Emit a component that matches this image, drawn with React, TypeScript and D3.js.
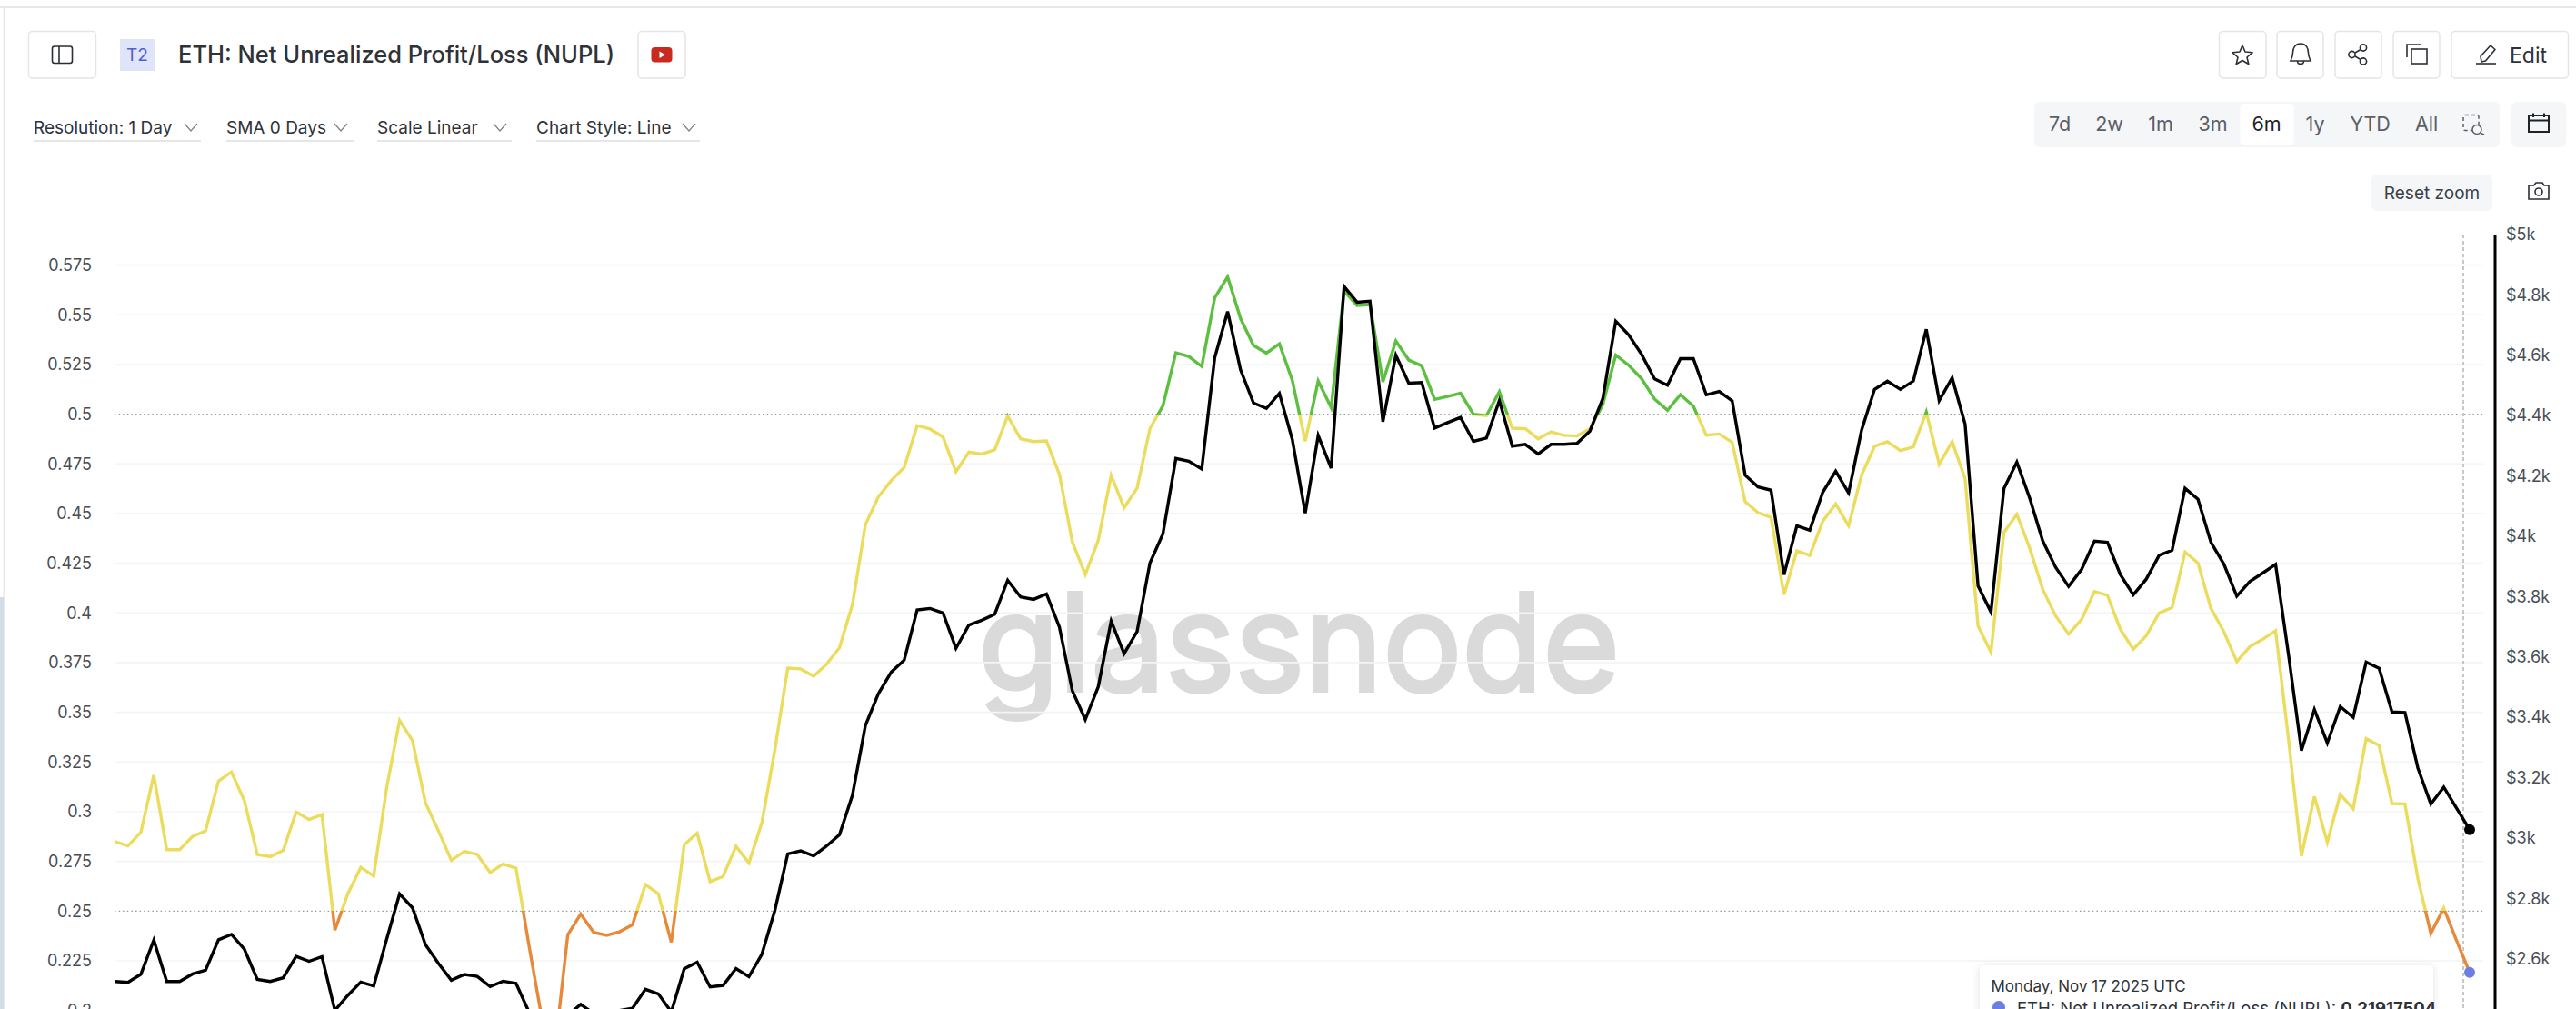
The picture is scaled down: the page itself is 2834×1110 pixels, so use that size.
import { useEffect } from "react"
import * as d3 from "d3"

const nuplValues = [
  0.285, 0.2828, 0.2896, 0.3184, 0.2809, 0.2809, 0.2876, 0.2904, 0.3154, 0.32,
  0.3056, 0.2785, 0.2774, 0.2805, 0.2998, 0.296, 0.2985, 0.2404, 0.2587, 0.272,
  0.2677, 0.312, 0.3459, 0.3357, 0.3044, 0.2904, 0.2755, 0.28, 0.2785, 0.2694,
  0.2736, 0.2716, 0.2328, 0.196, 0.18, 0.2381, 0.2485, 0.2393, 0.2378, 0.2396,
  0.2431, 0.2633, 0.2587, 0.2343, 0.2834, 0.2892, 0.2648, 0.2674, 0.2826, 0.2742,
  0.2945, 0.331, 0.3722, 0.3718, 0.3681, 0.3742, 0.3825, 0.4042, 0.4444, 0.4583,
  0.4666, 0.4732, 0.4942, 0.4925, 0.4885, 0.471, 0.4809, 0.4799, 0.482, 0.499,
  0.4876, 0.4862, 0.4865, 0.4697, 0.4356, 0.4193, 0.4365, 0.4692, 0.4529, 0.4627,
  0.4928, 0.5042, 0.5308, 0.529, 0.524, 0.5585, 0.569, 0.5481, 0.5345, 0.5307,
  0.5354, 0.517, 0.4864, 0.5166, 0.5033, 0.562, 0.5547, 0.5551, 0.5163, 0.5368,
  0.5272, 0.5243, 0.5074, 0.5089, 0.5105, 0.4999, 0.4992, 0.5112, 0.4929, 0.4927,
  0.4876, 0.4911, 0.4893, 0.489, 0.4926, 0.5048, 0.5297, 0.5246, 0.5178, 0.5076,
  0.5019, 0.5098, 0.504, 0.4894, 0.49, 0.4858, 0.456, 0.4504, 0.4481, 0.4091,
  0.4312, 0.4289, 0.4461, 0.4548, 0.4438, 0.4693, 0.4838, 0.4861, 0.4817, 0.4835,
  0.501, 0.4748, 0.4861, 0.4675, 0.3935, 0.3801, 0.4405, 0.4496, 0.4324, 0.4118,
  0.3984, 0.3893, 0.3966, 0.4107, 0.4088, 0.3917, 0.3817, 0.3885, 0.3999, 0.4027,
  0.4306, 0.4251, 0.4022, 0.3905, 0.3755, 0.3829, 0.3867, 0.391, 0.3364, 0.2777,
  0.3077, 0.2846, 0.3087, 0.3014, 0.3367, 0.3333, 0.3041, 0.3039, 0.2663, 0.2388,
  0.2515, 0.235, 0.2192,
]

const priceValues = [
  2524, 2521, 2548, 2661, 2524, 2524, 2549, 2561, 2662, 2680,
  2631, 2531, 2524, 2536, 2607, 2591, 2606, 2428, 2478, 2522,
  2509, 2664, 2814, 2768, 2646, 2584, 2528, 2547, 2541, 2507,
  2525, 2518, 2423, 2350, 2350, 2412, 2448, 2418, 2418, 2428,
  2435, 2498, 2483, 2423, 2566, 2588, 2506, 2511, 2567, 2540,
  2614, 2759, 2947, 2957, 2940, 2973, 3010, 3141, 3372, 3477,
  3549, 3589, 3755, 3760, 3745, 3628, 3705, 3721, 3741, 3853,
  3798, 3790, 3808, 3698, 3487, 3392, 3500, 3718, 3610, 3683,
  3911, 4007, 4257, 4248, 4222, 4591, 4744, 4551, 4441, 4423,
  4473, 4320, 4076, 4333, 4225, 4827, 4775, 4778, 4379, 4599,
  4507, 4509, 4358, 4376, 4393, 4314, 4325, 4449, 4298, 4304,
  4272, 4304, 4304, 4307, 4348, 4456, 4712, 4667, 4602, 4521,
  4500, 4588, 4588, 4468, 4479, 4448, 4202, 4163, 4152, 3872,
  4034, 4019, 4145, 4215, 4143, 4351, 4486, 4513, 4486, 4514,
  4685, 4449, 4524, 4371, 3835, 3748, 4157, 4245, 4125, 3984,
  3896, 3833, 3889, 3983, 3979, 3872, 3805, 3857, 3936, 3953,
  4158, 4122, 3979, 3907, 3801, 3849, 3877, 3906, 3607, 3289,
  3425, 3314, 3435, 3399, 3582, 3562, 3417, 3415, 3231, 3112,
  3168, 3097, 3027,
]

const nuplTicks = [0.2, 0.225, 0.25, 0.275, 0.3, 0.325, 0.35, 0.375, 0.4, 0.425, 0.45, 0.475, 0.5, 0.525, 0.55, 0.575]
const dottedTicks = [0.25, 0.5]
const priceTicks = [2600, 2800, 3000, 3200, 3400, 3600, 3800, 4000, 4200, 4400, 4600, 4800, 5000]
const dropdowns = ["Resolution: 1 Day", "SMA 0 Days", "Scale Linear", "Chart Style: Line"]
const ranges = ["7d", "2w", "1m", "3m", "6m", "1y", "YTD", "All"]

const FONT = "Inter, sans-serif"
const YELLOW = "#ecdc5e"
const GREEN = "#5cbf3f"
const ORANGE = "#e6893a"
const BORDER = "#e3e5e8"
const ICON = "#2c2f33"

const x = d3.scaleLinear().domain([0, nuplValues.length - 1]).range([126.5, 2717])
const yNupl = d3.scaleLinear().domain([0.25, 0.575]).range([1002.3, 291.5])
const yPrice = d3.scaleLinear().domain([3000, 5000]).range([921.7, 257.7])

const nuplLine = d3.line<number>().x((d, i) => x(i)).y((d) => yNupl(d))
const priceLine = d3.line<number>().x((d, i) => x(i)).y((d) => yPrice(d))
const formatNupl = d3.format("~g")
const formatPrice = (p: number) => "$" + d3.format("~g")(p / 1000) + "k"

const Btn = ({ x0, x1 }: { x0: number; x1: number }) => (
  <rect x={x0} y={34.5} width={x1 - x0} height={51.5} rx={4} fill="#fff" stroke={BORDER} strokeWidth={1.5} />
)

// x positions of the dropdown texts, chevrons and underlines
const dropX = [37, 249, 415, 590]
const chevX = [210, 375, 550, 758]
const lineEnd = [221, 389, 563, 770]
const rangeX = [2266, 2320.5, 2377, 2434.5, 2493.6, 2547, 2607.6, 2669.5]

export default function App() {
  useEffect(() => {
    document.body.style.margin = "0"
    document.body.style.overflow = "hidden"
  }, [])

  // gradient offsets so the line changes colour exactly at 0.5 and 0.25
  const gradTop = yNupl(0.6)
  const gradBottom = yNupl(0.15)
  const off = (v: number) => (yNupl(v) - gradTop) / (gradBottom - gradTop)

  const lastX = x(nuplValues.length - 1)

  return (
    <svg width={2834} height={1110} style={{ display: "block", fontFamily: FONT }}>
      <defs>
        <linearGradient id="nuplStroke" gradientUnits="userSpaceOnUse" x1={0} x2={0} y1={gradTop} y2={gradBottom}>
          <stop offset={off(0.5)} stopColor={GREEN} />
          <stop offset={off(0.5)} stopColor={YELLOW} />
          <stop offset={off(0.25)} stopColor={YELLOW} />
          <stop offset={off(0.25)} stopColor={ORANGE} />
        </linearGradient>
      </defs>

      <rect width={2834} height={1110} fill="#fff" />
      <rect x={0} y={7} width={2834} height={2} fill="#e6e7e9" />
      <rect x={3.5} y={8} width={1.5} height={650} fill="#e9ebee" />
      <rect x={0} y={657} width={4.6} height={453} fill="#d3dde6" />

      {/* header left */}
      <Btn x0={31.5} x1={105.5} />
      <rect x={57.5} y={51} width={22} height={18.5} rx={2.5} fill="none" stroke={ICON} strokeWidth={1.6} />
      <line x1={65} x2={65} y1={51} y2={69.5} stroke={ICON} strokeWidth={1.6} />
      <rect x={132} y={43} width={38} height={35} fill="#e0e4f8" />
      <text x={151} y={67} textAnchor="middle" fontSize={19} fill="#4c5fd5">T2</text>
      <text x={196} y={69} fontSize={25.5} fontWeight={500} fill="#2f3237">ETH: Net Unrealized Profit/Loss (NUPL)</text>
      <Btn x0={702} x1={754} />
      <rect x={716.5} y={52} width={23} height={16.5} rx={4} fill="#c9291e" />
      <path d="M725.5 56.5 L732 60.2 L725.5 64 Z" fill="#fff" />

      {/* dropdowns */}
      {dropdowns.map((d, i) => (
        <g key={d}>
          <text x={dropX[i]} y={146.5} fontSize={19} fill="#2f3237">{d}</text>
          <path
            d={`M${chevX[i] - 7} 136 L${chevX[i]} 144 L${chevX[i] + 7} 136`}
            fill="none"
            stroke="#7d8187"
            strokeWidth={1.2}
          />
          <line x1={dropX[i]} x2={lineEnd[i]} y1={155} y2={155} stroke="#dcdee1" strokeWidth={1.5} />
        </g>
      ))}

      {/* header right */}
      <Btn x0={2441.5} x1={2493} />
      <Btn x0={2505} x1={2556} />
      <Btn x0={2569} x1={2620} />
      <Btn x0={2633} x1={2684} />
      <Btn x0={2697} x1={2825.5} />
      <path
        d="M2467 50 L2470 57 L2478 57.8 L2472 63 L2473.8 70.5 L2467 66.5 L2460.2 70.5 L2462 63 L2456 57.8 L2464 57 Z"
        fill="none"
        stroke={ICON}
        strokeWidth={1.6}
        strokeLinejoin="round"
      />
      <path
        d="M2531 48 C2525 48 2522.5 53 2522.5 58 C2522.5 62 2521 65 2520 67 L2542 67 C2541 65 2539.5 62 2539.5 58 C2539.5 53 2537 48 2531 48 Z M2527.5 67 C2527.5 71.5 2534.5 71.5 2534.5 67"
        fill="none"
        stroke={ICON}
        strokeWidth={1.6}
      />
      <g fill="none" stroke={ICON} strokeWidth={1.6}>
        <circle cx={2600} cy={52.5} r={3.6} />
        <circle cx={2587.5} cy={60} r={3.6} />
        <circle cx={2600} cy={67.5} r={3.6} />
        <path d="M2591 58 L2597 54.5 M2591 62 L2597 65.5" />
        <rect x={2653} y={54} width={17} height={16} />
        <path d="M2648 63 L2648 49 L2664 49" />
        <path d="M2730 68 L2729 62 L2740 50 L2745 54.5 L2734.5 67 Z" strokeLinejoin="round" />
        <path d="M2724 70 L2746 70" />
      </g>
      <text x={2761} y={68.5} fontSize={23} fill="#2f3237">Edit</text>

      {/* time range */}
      <rect x={2238} y={112} width={512} height={50} rx={6} fill="#f5f6f8" />
      <rect x={2464.5} y={114} width={59} height={45} rx={4} fill="#fff" />
      {ranges.map((r, i) => (
        <text
          key={r}
          x={rangeX[i]}
          y={143.5}
          textAnchor="middle"
          fontSize={21.5}
          fill={r === "6m" ? "#1f2226" : "#5a6068"}
        >
          {r}
        </text>
      ))}
      <rect x={2710} y={126.5} width={17} height={17} rx={2} fill="none" stroke="#5a6068" strokeWidth={1.5} strokeDasharray="4 3" />
      <circle cx={2725} cy={142.5} r={5} fill="#f5f6f8" stroke="#5a6068" strokeWidth={1.5} />
      <line x1={2729} x2={2733} y1={146.5} y2={148} stroke="#5a6068" strokeWidth={1.5} />
      <rect x={2763} y={112} width={60.5} height={50} rx={6} fill="#f5f6f8" />
      <g fill="none" stroke="#1f2226" strokeWidth={2}>
        <rect x={2782} y={127} width={22} height={18} />
        <path d="M2782 132.5 L2804 132.5 M2787 124.5 L2787 129 M2799 124.5 L2799 129" />
      </g>

      <rect x={2609} y={192} width={133} height={40} rx={6} fill="#f5f6f8" />
      <text x={2675.5} y={218.5} textAnchor="middle" fontSize={19} fill="#3b3f45">Reset zoom</text>
      <g fill="none" stroke={ICON} strokeWidth={1.6}>
        <path d="M2782 204 L2787.5 204 L2790 201 L2797 201 L2799 204 L2804 204 L2804 219 L2782 219 Z" />
        <circle cx={2793} cy={211} r={4} />
      </g>

      {/* watermark under the grid */}
      <text
        x={1076}
        y={760}
        fontSize={148}
        fontWeight={400}
        fill="#dadada"
        stroke="#dadada"
        strokeWidth={4}
        textLength={706}
        lengthAdjust="spacingAndGlyphs"
      >
        glassnode
      </text>

      {/* grid and left axis */}
      {nuplTicks.map((t) => (
        <g key={t}>
          {dottedTicks.includes(t) ? (
            <line x1={126} x2={2732} y1={yNupl(t)} y2={yNupl(t)} stroke="#9a9a9a" strokeWidth={1.2} strokeDasharray="1.5 3.1" />
          ) : (
            <line x1={127.5} x2={2732} y1={yNupl(t)} y2={yNupl(t)} stroke="#f3f4f5" strokeWidth={1.6} />
          )}
          <text x={101} y={yNupl(t) + 6.5} textAnchor="end" fontSize={18} fill="#4a4e54">{formatNupl(t)}</text>
        </g>
      ))}

      {/* cursor and right axis */}
      <line x1={2710} x2={2710} y1={258} y2={1110} stroke="#a9abae" strokeWidth={1.3} strokeDasharray="4 3" />
      <line x1={2745} x2={2745} y1={258} y2={1110} stroke="#000" strokeWidth={3} />
      {priceTicks.map((t) => (
        <text key={t} x={2757} y={yPrice(t) + 6.5} fontSize={18} fill="#4a4e54">{formatPrice(t)}</text>
      ))}

      {/* series */}
      <path d={nuplLine(nuplValues) ?? ""} fill="none" stroke="url(#nuplStroke)" strokeWidth={3.4} strokeLinejoin="miter" />
      <path d={priceLine(priceValues) ?? ""} fill="none" stroke="#000" strokeWidth={3.4} strokeLinejoin="miter" />
      <circle cx={lastX} cy={yPrice(priceValues[priceValues.length - 1])} r={6} fill="#000" />
      <circle cx={lastX} cy={yNupl(nuplValues[nuplValues.length - 1])} r={6} fill="#6a7fe0" />

      {/* tooltip, cut by the bottom of the picture */}
      <defs>
        <filter id="tipShadow" x="-5%" y="-30%" width="110%" height="160%">
          <feDropShadow dx={0} dy={1} stdDeviation={5} floodColor="#000" floodOpacity={0.12} />
        </filter>
      </defs>
      <rect x={2178} y={1062} width={499} height={90} rx={5} fill="#fff" filter="url(#tipShadow)" />
      <text x={2190.5} y={1091} fontSize={17} fill="#2f3237">Monday, Nov 17 2025 UTC</text>
      <circle cx={2199} cy={1108} r={7} fill="#6a7fe0" />
      <text x={2219} y={1116} fontSize={18.5} fill="#2f3237">
        ETH: Net Unrealized Profit/Loss (NUPL): <tspan fontWeight={700}>0.21917504</tspan>
      </text>
    </svg>
  )
}
